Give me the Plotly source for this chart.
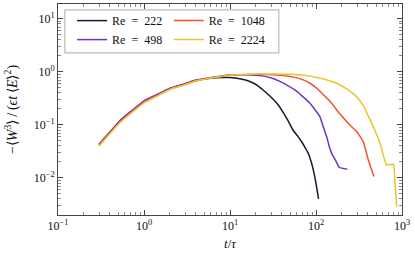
import plotly.graph_objects as go

# Re = 222
t_222 = [0.3, 0.4, 0.55, 0.75, 1.0, 1.5, 2.0, 3.0, 4.0, 6.0, 8.0, 10, 13, 17, 21, 24, 28, 32, 37, 42, 48, 54, 61, 68, 75, 81, 88, 93, 100, 107]
v_222 = [0.042, 0.071, 0.125, 0.19, 0.275, 0.38, 0.48, 0.59, 0.68, 0.755, 0.78, 0.78, 0.74, 0.66, 0.55, 0.46, 0.37, 0.30, 0.23, 0.166, 0.115, 0.08, 0.062, 0.048, 0.037, 0.0295, 0.02, 0.0142, 0.0079, 0.0040]

# Re = 498
t_498 = [0.3, 0.4, 0.55, 0.75, 1.0, 1.5, 2.0, 3.0, 4.0, 6.0, 8.0, 10, 15, 24, 31, 38, 48, 60, 72, 85, 98, 111, 122, 133, 142, 152, 170, 187, 231]
v_498 = [0.043, 0.073, 0.13, 0.195, 0.285, 0.39, 0.49, 0.60, 0.70, 0.78, 0.84, 0.87, 0.88, 0.84, 0.76, 0.66, 0.54, 0.43, 0.33, 0.256, 0.19, 0.143, 0.09, 0.060, 0.04, 0.029, 0.021, 0.0157, 0.0146]

# Re = 1048
t_1048 = [0.3, 0.4, 0.55, 0.75, 1.0, 1.5, 2.0, 3.0, 4.0, 6.0, 8.0, 10, 15, 20, 35, 50, 60, 71, 85, 102, 122, 146, 185, 227, 260, 297, 355, 405, 472]
v_1048 = [0.041, 0.07, 0.122, 0.185, 0.27, 0.375, 0.475, 0.58, 0.68, 0.77, 0.83, 0.86, 0.89, 0.90, 0.87, 0.815, 0.77, 0.706, 0.61, 0.49, 0.37, 0.275, 0.17, 0.116, 0.092, 0.075, 0.048, 0.022, 0.0106]

# Re = 2224
t_2224 = [0.3, 0.4, 0.55, 0.75, 1.0, 1.5, 2.0, 3.0, 4.0, 6.0, 8.0, 10, 15, 20, 35, 50, 70, 102, 135, 174, 230, 297, 360, 425, 490, 555, 663, 793, 830, 868]
v_2224 = [0.040, 0.068, 0.118, 0.18, 0.26, 0.365, 0.465, 0.57, 0.67, 0.765, 0.82, 0.86, 0.89, 0.91, 0.91, 0.90, 0.87, 0.78, 0.70, 0.61, 0.47, 0.34, 0.22, 0.124, 0.075, 0.045, 0.0176, 0.018, 0.0079, 0.0029]

labels = ["Re\u2002=\u2002222", "Re\u2002=\u2002498", "Re\u2002=\u20021048", "Re\u2002=\u20022224"]
colors = ["#1a1530", "#6a35c9", "#f5522a", "#e8c52e"]
legend_ids = ["legend", "legend", "legend2", "legend2"]

x_tickvals = [0.1, 1, 10, 100, 1000]
x_ticktext = ["10<sup>−1</sup>", "10<sup>0</sup>", "10<sup>1</sup>", "10<sup>2</sup>", "10<sup>3</sup>"]
y_tickvals = [0.01, 0.1, 1, 10]
y_ticktext = ["10<sup>−2</sup>", "10<sup>−1</sup>", "10<sup>0</sup>", "10<sup>1</sup>"]

series = [(t_222, v_222), (t_498, v_498), (t_1048, v_1048), (t_2224, v_2224)]

fig = go.Figure()
for (t, v), name, c, lg in zip(series, labels, colors, legend_ids):
    fig.add_trace(go.Scatter(x=t, y=v, mode="lines", name=name, legend=lg, legendgroup=name,
                             line=dict(color=c, width=1.5, shape="spline", smoothing=0.4)))

minor_x = [m * 10 ** e for e in range(-1, 3) for m in range(2, 10)]
minor_y = [m * 10 ** e for e in range(-3, 2) for m in range(2, 10)]

font = dict(family="Liberation Serif", size=12, color="#111111")
title_font = dict(family="Liberation Serif", size=14, color="#111111")
axcol = "#444444"
fig.update_layout(
    width=415, height=257,
    margin=dict(l=58, r=13, t=4, b=42, autoexpand=False),
    paper_bgcolor="white", plot_bgcolor="white",
    font=font,
    showlegend=True,
    legend=dict(x=0.041, y=0.99, xanchor="left", yanchor="top", bgcolor="rgba(0,0,0,0)",
                font=font, tracegroupgap=0, itemwidth=30),
    legend2=dict(x=0.322, y=0.99, xanchor="left", yanchor="top", bgcolor="rgba(0,0,0,0)",
                 font=font, tracegroupgap=0, itemwidth=30),
    shapes=[dict(type="rect", xref="paper", yref="paper", x0=0.020, x1=0.642, y0=0.768, y1=0.972,
                 line=dict(color="#aaaaaa", width=1), fillcolor="white", layer="below")],
)
fig.update_xaxes(type="log", range=[-1, 3], tickmode="array", tickvals=x_tickvals, ticktext=x_ticktext,
                 ticks="inside", ticklen=5, tickcolor=axcol, showline=True, linecolor=axcol, linewidth=1,
                 mirror="ticks", showgrid=False, zeroline=False, automargin=False,
                 minor=dict(tickmode="array", tickvals=minor_x, ticks="inside", ticklen=3, tickcolor="#888888", showgrid=False),
                 title=dict(text="<i>t</i>/<i>τ</i>", standoff=6, font=dict(family="Liberation Serif", size=13, color="#111111")), tickfont=font)
fig.update_yaxes(type="log", range=[-2.7, 1.28], tickmode="array", tickvals=y_tickvals, ticktext=y_ticktext,
                 ticks="inside", ticklen=5, tickcolor=axcol, showline=True, linecolor=axcol, linewidth=1,
                 mirror="ticks", showgrid=False, zeroline=False, automargin=False,
                 minor=dict(tickmode="array", tickvals=minor_y, ticks="inside", ticklen=3, tickcolor="#888888", showgrid=False),
                 title=dict(text="−⟨<i>W</i><sup>3</sup>⟩\u2009/\u2009(<i>ϵt</i>\u2009⟨<i>E</i>⟩<sup>2</sup>)", standoff=12, font=title_font), tickfont=font)

fig.write_html("out.html", config={"displayModeBar": False},
               post_script="document.body.style.margin='0';document.body.style.padding='0';")
